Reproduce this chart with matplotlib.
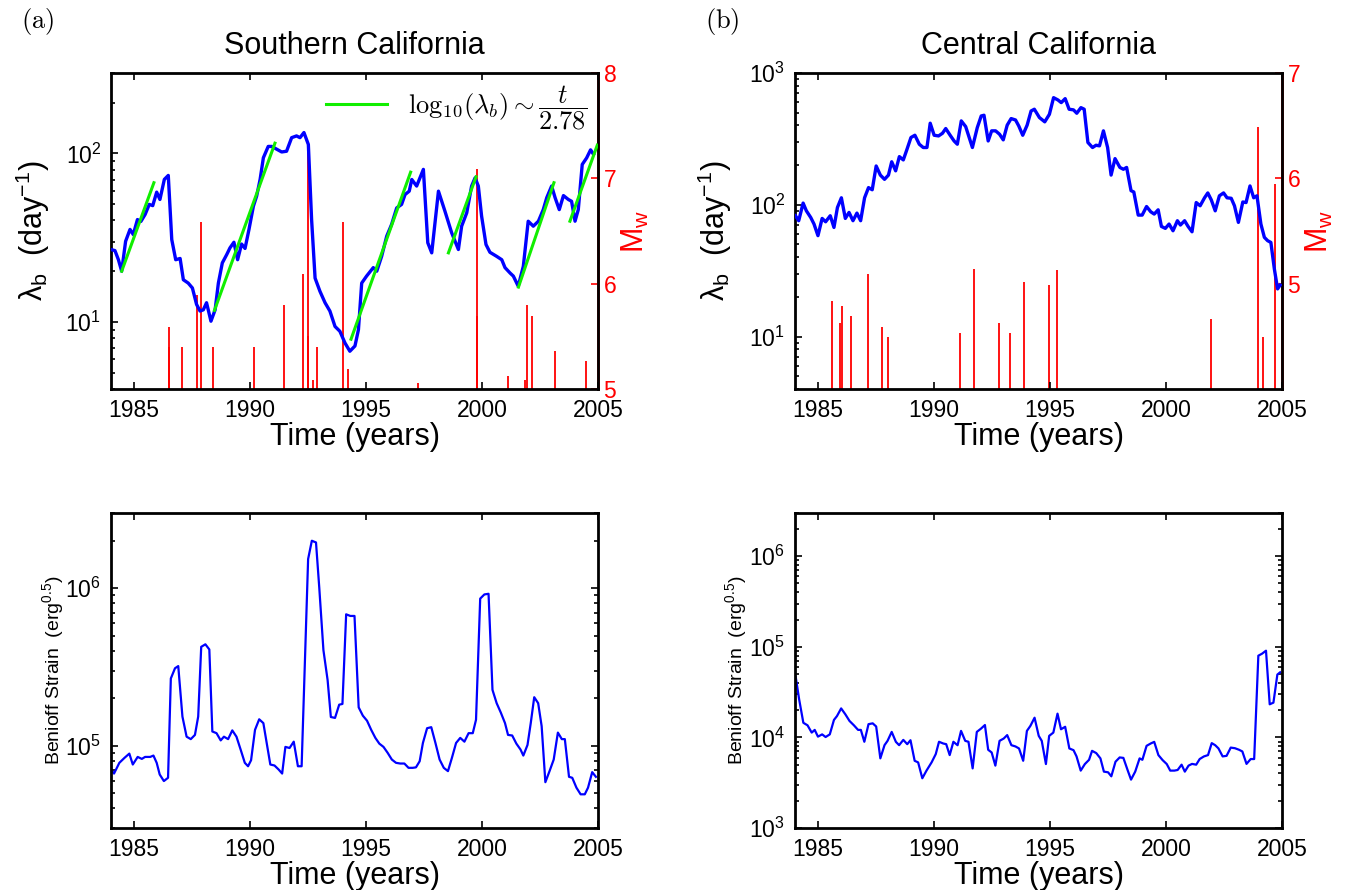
import matplotlib
matplotlib.use('Agg')
import matplotlib.pyplot as plt
from matplotlib.font_manager import FontProperties
from matplotlib.ticker import LogLocator, NullFormatter

plt.rcParams['font.family'] = ['Liberation Sans', 'DejaVu Sans']
plt.rcParams['mathtext.fontset'] = 'custom'
plt.rcParams['mathtext.rm'] = 'Liberation Sans'
plt.rcParams['mathtext.it'] = 'Liberation Sans:italic'
plt.rcParams['mathtext.bf'] = 'Liberation Sans:bold'
plt.rcParams['mathtext.sf'] = 'Liberation Sans'

# ---- Southern California: lambda_b ----
sc_years = [1984.0, 1984.17, 1984.32, 1984.46, 1984.63, 1984.82, 1984.96, 1985.14, 1985.29, 1985.47,
            1985.65, 1985.80, 1985.97, 1986.11, 1986.30, 1986.47, 1986.62, 1986.79, 1986.98, 1987.12,
            1987.33, 1987.51, 1987.69, 1987.84, 1987.98, 1988.12, 1988.31, 1988.49, 1988.63, 1988.80,
            1988.99, 1989.13, 1989.30, 1989.46, 1989.63, 1989.78, 1989.95, 1990.14, 1990.28, 1990.43,
            1990.57, 1990.78, 1990.93, 1991.14, 1991.36, 1991.57, 1991.79, 1992.00, 1992.15, 1992.32,
            1992.51, 1992.65, 1992.80, 1993.01, 1993.23, 1993.44, 1993.66, 1993.87, 1994.09, 1994.30,
            1994.52, 1994.67, 1994.81, 1995.02, 1995.31, 1995.46, 1995.67, 1995.89, 1996.10, 1996.32,
            1996.53, 1996.68, 1996.86, 1996.97, 1997.18, 1997.47, 1997.66, 1997.83, 1998.12, 1998.40,
            1998.69, 1998.98, 1999.12, 1999.34, 1999.55, 1999.70, 1999.84, 1999.98, 2000.17, 2000.34,
            2000.63, 2000.85, 2000.99, 2001.21, 2001.35, 2001.56, 2001.78, 2001.99, 2002.21, 2002.43,
            2002.64, 2002.79, 2003.00, 2003.15, 2003.33, 2003.51, 2003.72, 2003.86, 2004.01, 2004.15,
            2004.32, 2004.51, 2004.68, 2004.80]
sc_lambda = [26.9, 26.5, 23.4, 20.0, 30.1, 35.4, 33.0, 40.5, 39.5, 43.4,
             49.8, 49.0, 58.9, 53.3, 70.1, 74.0, 30.8, 23.4, 23.8, 17.8,
             17.0, 15.9, 12.7, 11.6, 11.8, 13.0, 10.1, 11.8, 17.0, 22.4,
             25.1, 27.5, 29.7, 23.4, 29.0, 27.3, 35.4, 48.6, 55.8, 70.1,
             94.2, 110, 110, 106, 102, 103, 124, 127, 124, 133,
             113, 40.5, 18.2, 15.2, 13.0, 11.6, 9.4, 8.8, 7.5, 6.7,
             7.2, 9.0, 17.0, 18.7, 21.0, 20.0, 24.5, 32.3, 37.9, 47.5,
             49.8, 57.0, 59.7, 70.0, 64.0, 80.4, 29.5, 25.7, 59.7, 45.4,
             33.8, 26.9, 37.0, 44.4, 64.0, 71.6, 64.0, 42.5, 28.8, 25.9,
             24.5, 23.4, 21.0, 19.5, 18.7, 16.3, 21.4, 39.6, 37.0, 39.6,
             46.4, 54.6, 64.0, 54.6, 46.4, 56.2, 53.3, 52.0, 39.6, 46.4,
             86.0, 94.0, 105, 99.0]

# fitted segments log10(lambda_b) ~ t/2.78 : (t0, t1, lambda0, lambda1)
fit_t0 = [1984.46, 1988.46, 1994.35, 1998.55, 2001.57, 2003.79]
fit_t1 = [1985.85, 1991.07, 1996.92, 1999.74, 2003.10, 2004.97]
fit_l0 = [20.0, 11.7, 7.9, 25.7, 16.1, 39.6]
fit_l1 = [67.0, 115.0, 77.4, 72.6, 67.0, 112.0]

sc_eq_years = [1986.50, 1986.52, 1987.08, 1987.71, 1987.88, 1988.41, 1990.15, 1991.47, 1992.29, 1992.48,
               1992.51, 1992.70, 1992.90, 1994.02, 1994.21, 1997.22, 1999.77, 1999.80, 2001.12, 2001.85,
               2001.92, 2002.14, 2003.14, 2004.47]
sc_eq_mag = [5.59, 5.40, 5.40, 5.89, 6.59, 5.40, 5.40, 5.80, 6.09, 7.29,
             5.50, 5.09, 5.40, 6.59, 5.19, 5.06, 7.09, 5.69, 5.12, 5.09,
             5.80, 5.69, 5.36, 5.27]

# ---- Central California: lambda_b ----
cc_years = [1984.02, 1984.16, 1984.35, 1984.49, 1984.68, 1984.82, 1984.99, 1985.17, 1985.32, 1985.52,
            1985.68, 1985.83, 1986.00, 1986.17, 1986.33, 1986.50, 1986.67, 1986.83, 1987.00, 1987.17,
            1987.33, 1987.50, 1987.68, 1987.86, 1988.03, 1988.17, 1988.34, 1988.50, 1988.67, 1988.83,
            1989.00, 1989.17, 1989.36, 1989.53, 1989.69, 1989.83, 1990.00, 1990.19, 1990.36, 1990.50,
            1990.69, 1990.86, 1991.00, 1991.17, 1991.36, 1991.65, 1991.86, 1992.03, 1992.15, 1992.33,
            1992.48, 1992.65, 1992.82, 1992.98, 1993.15, 1993.32, 1993.51, 1993.65, 1993.82, 1994.01,
            1994.18, 1994.32, 1994.54, 1994.77, 1994.97, 1995.15, 1995.34, 1995.48, 1995.65, 1995.82,
            1996.01, 1996.15, 1996.33, 1996.47, 1996.63, 1996.83, 1996.98, 1997.13, 1997.30, 1997.48,
            1997.63, 1997.80, 1998.01, 1998.16, 1998.30, 1998.49, 1998.61, 1998.80, 1998.97, 1999.16,
            1999.34, 1999.49, 1999.66, 1999.80, 1999.97, 2000.13, 2000.30, 2000.49, 2000.62, 2000.80,
            2000.95, 2001.12, 2001.30, 2001.47, 2001.66, 2001.80, 2001.95, 2002.12, 2002.30, 2002.48,
            2002.63, 2002.81, 2002.95, 2003.12, 2003.31, 2003.45, 2003.62, 2003.78, 2003.92, 2004.09,
            2004.24, 2004.38, 2004.52, 2004.67, 2004.81, 2004.92]
cc_lambda = [82.6, 75.7, 103, 90.0, 80.0, 71.4, 58.3, 78.8, 74.3, 82.6,
             67.3, 95.4, 113, 78.8, 87.5, 75.7, 86.5, 75.7, 113, 135,
             130, 197, 168, 156, 168, 212, 181, 232, 219, 264,
             324, 337, 288, 272, 272, 416, 337, 333, 349, 379,
             337, 305, 288, 433, 392, 272, 385, 472, 478, 305,
             364, 364, 343, 311, 402, 451, 440, 396, 337, 402,
             515, 531, 459, 426, 486, 650, 624, 596, 639, 531,
             525, 495, 546, 531, 297, 272, 283, 280, 364, 272,
             168, 224, 192, 186, 192, 128, 125, 83.5, 83.5, 97.0,
             88.5, 85.0, 91.6, 68.5, 66.2, 71.4, 63.5, 75.7, 70.2, 75.7,
             68.5, 62.4, 104, 98.3, 113, 123, 109, 90.0, 117, 123,
             113, 112, 98.3, 73.5, 105, 104, 139, 113, 117, 71.4,
             56.6, 53.4, 51.8, 32.6, 23.0, 24.6]

cc_eq_years = [1985.60, 1985.93, 1986.04, 1986.42, 1987.14, 1987.76, 1988.01, 1991.10, 1991.70, 1992.79,
               1993.25, 1993.86, 1994.97, 1995.31, 2001.95, 2003.95, 2004.18, 2004.70]
cc_eq_mag = [4.84, 4.63, 4.79, 4.69, 5.09, 4.59, 4.49, 4.53, 5.14, 4.63,
             4.53, 5.02, 4.99, 5.13, 4.66, 6.49, 4.49, 5.95]

# ---- Benioff strain, Southern California ----
sb_years = [1984.00, 1984.13, 1984.36, 1984.58, 1984.79, 1984.94, 1985.15, 1985.33, 1985.47, 1985.69,
            1985.83, 1985.97, 1986.10, 1986.28, 1986.46, 1986.58, 1986.76, 1986.90, 1987.08, 1987.26,
            1987.44, 1987.62, 1987.76, 1987.89, 1988.07, 1988.24, 1988.37, 1988.55, 1988.73, 1988.87,
            1989.05, 1989.23, 1989.41, 1989.59, 1989.77, 1989.91, 1990.04, 1990.21, 1990.39, 1990.57,
            1990.75, 1990.87, 1991.05, 1991.23, 1991.38, 1991.52, 1991.70, 1991.88, 1992.06, 1992.22,
            1992.50, 1992.66, 1992.84, 1992.98, 1993.16, 1993.34, 1993.48, 1993.66, 1993.84, 1993.98,
            1994.14, 1994.32, 1994.50, 1994.68, 1994.86, 1995.04, 1995.22, 1995.40, 1995.57, 1995.75,
            1995.93, 1996.11, 1996.29, 1996.47, 1996.65, 1996.83, 1997.01, 1997.15, 1997.31, 1997.45,
            1997.63, 1997.81, 1997.99, 1998.17, 1998.35, 1998.53, 1998.70, 1998.88, 1999.06, 1999.24,
            1999.42, 1999.60, 1999.74, 1999.92, 2000.10, 2000.28, 2000.45, 2000.63, 2000.81, 2000.99,
            2001.12, 2001.30, 2001.48, 2001.66, 2001.78, 2001.96, 2002.10, 2002.25, 2002.42, 2002.57,
            2002.73, 2002.91, 2003.09, 2003.27, 2003.44, 2003.57, 2003.75, 2003.89, 2004.07, 2004.25,
            2004.43, 2004.57, 2004.75, 2004.91]
sb_strain = [70500, 66500, 77800, 83600, 89000, 75900, 84800, 82400, 84800, 84800,
             86500, 77800, 65600, 59600, 62500, 267000, 310000, 320000, 153000, 114000,
             110000, 117000, 153000, 424000, 440000, 408000, 123000, 120000, 108000, 114000,
             110000, 125000, 114000, 94400, 77800, 74000, 80800, 126000, 147000, 139000,
             96600, 75900, 74800, 70500, 66500, 98200, 96600, 106000, 74000, 74000,
             1.53e6, 2.0e6, 1.95e6, 1.01e6, 404000, 261000, 152000, 150000, 182000, 184000,
             682000, 666000, 666000, 175000, 155000, 144000, 126000, 112000, 103000, 98200,
             90000, 81600, 77800, 77000, 77000, 72300, 72300, 72800, 79600, 104000,
             129000, 131000, 104000, 81600, 72300, 68900, 83600, 104000, 112000, 106000,
             120000, 120000, 146000, 858000, 912000, 921000, 226000, 186000, 162000, 139000,
             117000, 116000, 103000, 94400, 86500, 101000, 139000, 203000, 186000, 133000,
             58600, 68900, 81600, 121000, 110000, 110000, 63400, 62500, 54100, 49100,
             49100, 54100, 67900, 63400]

# ---- Benioff strain, Central California ----
cb_years = [1984.03, 1984.18, 1984.36, 1984.54, 1984.72, 1984.85, 1984.99, 1985.17, 1985.32, 1985.50,
            1985.68, 1985.81, 1985.99, 1986.17, 1986.35, 1986.54, 1986.72, 1986.84, 1986.99, 1987.17,
            1987.35, 1987.50, 1987.68, 1987.86, 1987.99, 1988.17, 1988.35, 1988.49, 1988.67, 1988.84,
            1988.98, 1989.16, 1989.31, 1989.49, 1989.67, 1989.89, 1990.07, 1990.21, 1990.39, 1990.52,
            1990.67, 1990.83, 1991.01, 1991.16, 1991.34, 1991.48, 1991.66, 1991.84, 1992.02, 1992.19,
            1992.33, 1992.48, 1992.64, 1992.82, 1993.00, 1993.15, 1993.33, 1993.51, 1993.66, 1993.84,
            1994.00, 1994.15, 1994.33, 1994.51, 1994.64, 1994.82, 1994.96, 1995.14, 1995.32, 1995.47,
            1995.65, 1995.83, 1996.01, 1996.14, 1996.32, 1996.50, 1996.68, 1996.81, 1996.99, 1997.17,
            1997.32, 1997.50, 1997.64, 1997.82, 1998.00, 1998.16, 1998.35, 1998.49, 1998.67, 1998.86,
            1998.98, 1999.16, 1999.34, 1999.49, 1999.67, 1999.85, 2000.03, 2000.18, 2000.36, 2000.50,
            2000.67, 2000.81, 2000.97, 2001.12, 2001.30, 2001.45, 2001.63, 2001.81, 2001.97, 2002.12,
            2002.26, 2002.44, 2002.61, 2002.79, 2002.97, 2003.15, 2003.29, 2003.47, 2003.65, 2003.80,
            2003.98, 2004.14, 2004.31, 2004.47, 2004.63, 2004.80, 2004.92]
cb_strain = [46600, 26200, 14500, 13600, 11300, 12100, 10200, 10800, 10100, 10800,
             15600, 17200, 20900, 18000, 15200, 13600, 12100, 12100, 8950, 14000,
             14300, 13200, 5870, 8210, 9160, 11500, 8930, 8210, 9390, 8420,
             9310, 5520, 5300, 3540, 4300, 5300, 6550, 8950, 8570, 8420,
             6380, 8950, 8200, 11800, 9160, 8950, 4550, 11500, 12500, 13700,
             7300, 6820, 4880, 9160, 9720, 10600, 8210, 7940, 7550, 5520,
             11800, 13400, 16500, 10400, 9160, 5080, 10400, 11300, 18300, 12300,
             13100, 7550, 7230, 6170, 4300, 5080, 5660, 7110, 6710, 5870,
             4190, 4120, 3720, 5390, 6010, 5940, 4300, 3420, 4190, 5870,
             5660, 8070, 8570, 8930, 6380, 5620, 5080, 4300, 4300, 4370,
             5000, 4190, 4880, 5100, 5000, 5770, 6160, 6380, 8650, 8200,
             7560, 6170, 6260, 7720, 7600, 7300, 7000, 5100, 5770, 5770,
             79800, 84000, 90600, 23200, 24200, 49400, 52300]

year_ticks = [1985, 1990, 1995, 2000, 2005]

fig = plt.figure(figsize=(13.52, 8.9), dpi=100)
W, H = 1352.0, 890.0
ax_tl = fig.add_axes([111 / W, 1 - 389 / H, 487 / W, 316 / H])
ax_tr = fig.add_axes([795 / W, 1 - 389 / H, 487 / W, 316 / H])
ax_bl = fig.add_axes([111 / W, 1 - 828 / H, 487 / W, 315 / H])
ax_br = fig.add_axes([795 / W, 1 - 828 / H, 487 / W, 315 / H])

tick_fs = 16.5
label_fs = 22


def style_main(ax):
    ax.set_yscale('log')
    ax.set_xlim(1984, 2005)
    ax.set_xticks(year_ticks)
    ax.yaxis.set_minor_locator(LogLocator(base=10, subs=range(2, 10)))
    ax.yaxis.set_minor_formatter(NullFormatter())
    ax.tick_params(which='both', direction='in', top=True, right=True, labelsize=tick_fs, width=1.2)
    ax.tick_params(which='major', length=5, pad=7)
    ax.tick_params(which='minor', length=3)
    for s in ax.spines.values():
        s.set_linewidth(2)
    ax.set_xlabel('Time (years)', fontsize=label_fs, labelpad=0)


for ax in (ax_tl, ax_tr, ax_bl, ax_br):
    style_main(ax)

# top left
ax_tl.plot(sc_years, sc_lambda, color='#0000ff', lw=2.4, zorder=3)
for i in range(len(fit_t0)):
    ax_tl.plot([fit_t0[i], fit_t1[i]], [fit_l0[i], fit_l1[i]], color='#11ee00', lw=2.2, zorder=4,
               label=r'$\mathrm{log}_{10}(\lambda_b) \sim \dfrac{t}{2.78}$' if i == 0 else None)
ax_tl.set_ylim(4, 300)
ax_tl.set_ylabel(r'$\mathrm{\lambda}_\mathrm{b}$  (day$^{-1}$)', fontsize=label_fs)
ax_tl.yaxis.set_label_coords(-0.122, 0.5)
ax_tl.set_title('Southern California', fontsize=label_fs, pad=14)
ax_tl.legend(loc='upper right', bbox_to_anchor=(1.0, 1.0), frameon=False, handlelength=2.3,
             borderaxespad=0.0, prop=FontProperties(size=19, math_fontfamily='cm'))

ax2 = ax_tl.twinx()
ax2.vlines(sc_eq_years, 5, sc_eq_mag, colors='#ff0000', lw=1.3, zorder=2)
ax2.set_ylim(5, 8)
ax2.set_yticks([5, 6, 7, 8])
ax2.tick_params(direction='in', colors='#ff0000', labelsize=tick_fs, length=5, pad=4, width=1.2)
ax2.spines['right'].set_color('#ff0000')
ax2.spines['right'].set_linewidth(2)
ax2.set_ylabel(r'M$_\mathrm{w}$', color='#ff0000', fontsize=label_fs)
ax2.yaxis.set_label_coords(1.045, 0.5)
ax_tl.set_zorder(ax2.get_zorder() + 1)
ax_tl.patch.set_visible(False)

# top right
ax_tr.plot(cc_years, cc_lambda, color='#0000ff', lw=2.4, zorder=3)
ax_tr.set_ylim(4, 1000)
ax_tr.set_ylabel(r'$\mathrm{\lambda}_\mathrm{b}$  (day$^{-1}$)', fontsize=label_fs)
ax_tr.yaxis.set_label_coords(-0.125, 0.5)
ax_tr.set_title('Central California', fontsize=label_fs, pad=14)

ax3 = ax_tr.twinx()
ax3.vlines(cc_eq_years, 4, cc_eq_mag, colors='#ff0000', lw=1.3, zorder=2)
ax3.set_ylim(4, 7)
ax3.set_yticks([5, 6, 7])
ax3.tick_params(direction='in', colors='#ff0000', labelsize=tick_fs, length=5, pad=4, width=1.2)
ax3.spines['right'].set_color('#ff0000')
ax3.spines['right'].set_linewidth(2)
ax3.set_ylabel(r'M$_\mathrm{w}$', color='#ff0000', fontsize=label_fs)
ax3.yaxis.set_label_coords(1.045, 0.5)
ax_tr.set_zorder(ax3.get_zorder() + 1)
ax_tr.patch.set_visible(False)

# bottom left
ax_bl.plot(sb_years, sb_strain, color='#0000ff', lw=1.6)
ax_bl.set_ylim(3e4, 3e6)
ax_bl.set_ylabel(r'Benioff Strain  (erg$^{0.5}$)', fontsize=14)
ax_bl.yaxis.set_label_coords(-0.092, 0.5)

# bottom right
ax_br.plot(cb_years, cb_strain, color='#0000ff', lw=1.6)
ax_br.set_ylim(1e3, 3e6)
ax_br.set_ylabel(r'Benioff Strain  (erg$^{0.5}$)', fontsize=14)
ax_br.yaxis.set_label_coords(-0.094, 0.5)

fig.text(21 / W, 1 - 37 / H, r'$\mathrm{(a)}$', fontsize=19, math_fontfamily='cm', va='bottom')
fig.text(705 / W, 1 - 37 / H, r'$\mathrm{(b)}$', fontsize=19, math_fontfamily='cm', va='bottom')

fig.savefig('out.png', dpi=100)
